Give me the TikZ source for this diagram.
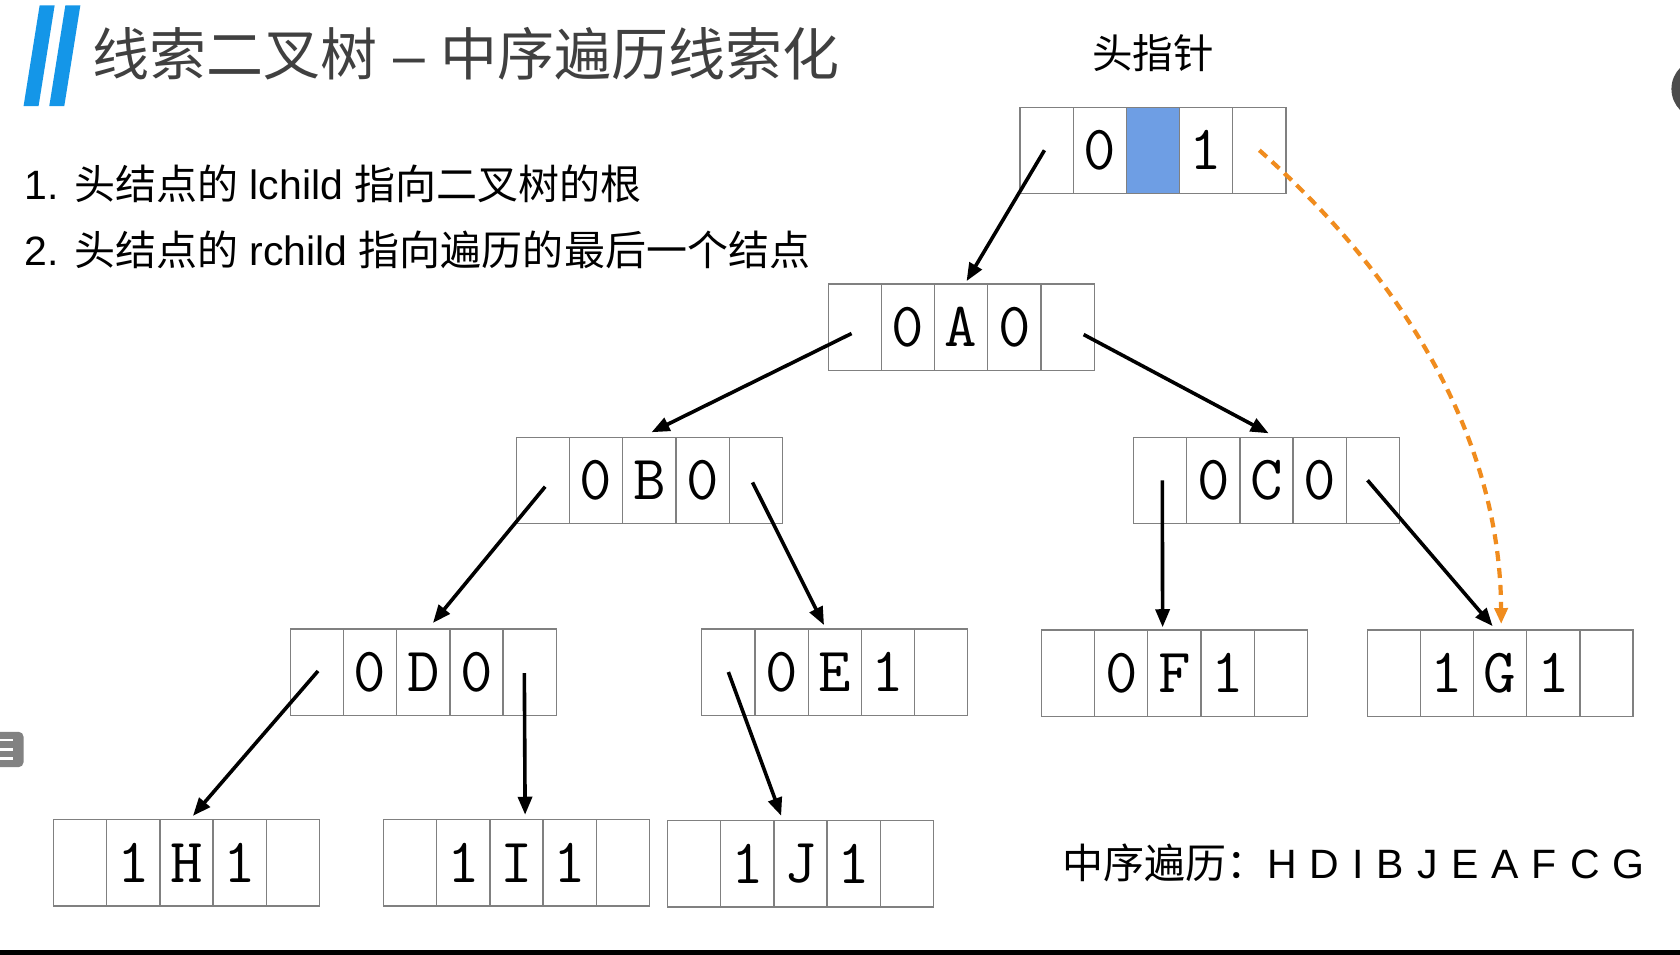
\documentclass[tikz,border=0pt]{standalone}
\usepackage{fontspec}
\setmainfont{Liberation Sans}
\newfontfamily\cjk{Noto Sans CJK SC}
\usetikzlibrary{arrows.meta,calc}
\definecolor{titleblue}{RGB}{20,150,232}
\definecolor{cellblue}{RGB}{110,158,228}
\definecolor{dashorange}{RGB}{240,140,30}
\definecolor{cellgray}{RGB}{128,128,128}
\definecolor{titlegray}{RGB}{64,64,64}
\definecolor{icongray}{RGB}{130,130,130}
\tikzset{
  cell/.style={draw=cellgray, line width=1.3pt, minimum width=53.2pt, minimum height=86.2pt,
    inner sep=0pt, font=\ttfamily\fontsize{63}{63}\selectfont},
  ptr/.style={line width=3.6pt, -{Triangle[length=18pt,width=14pt]}},
  thread/.style={dashorange, line width=4.2pt, dash pattern=on 10pt off 7pt,
    -{Triangle[length=16pt,width=13pt]}},
  txt/.style={inner sep=0pt, anchor=west},
}
% #1 middle fill, #2 name, #3 left, #4 top, #5 #6 #7 texts
\newcommand\recnode[7][white]{%
  \node[cell] (#2-1) at ({#3+24.82},{#4+40.25}) {};
  \node[cell] (#2-2) at ({#3+74.46},{#4+40.25}) {#5};
  \node[cell, fill=#1] (#2-3) at ({#3+124.1},{#4+40.25}) {#6};
  \node[cell] (#2-4) at ({#3+173.74},{#4+40.25}) {#7};
  \node[cell] (#2-5) at ({#3+223.38},{#4+40.25}) {};
}
\newcommand\gp{\hspace{0.32em}}
\begin{document}
\begin{tikzpicture}[x=1.0714pt,y=-1.0714pt]
\useasboundingbox (0,0) rectangle (1568,891);
\fill[white] (0,0) rectangle (1568,891);
% title bars
\fill[titleblue] (37,5) -- (51,5) -- (36,99) -- (22,99) -- cycle;
\fill[titleblue] (61,5) -- (75,5) -- (60,99) -- (46,99) -- cycle;
\node[txt, text=titlegray, font=\fontsize{57}{62}\selectfont] (title) at (86,50)
  {{\cjk 线索二叉树} – {\cjk 中序遍历线索化}};
\node[txt, font=\fontsize{41}{46}\selectfont] (line1) at (23,172)
  {1. {\cjk 头结点的} lchild {\cjk 指向二叉树的根}};
\node[txt, font=\fontsize{41}{46}\selectfont] (line2) at (23,233)
  {2. {\cjk 头结点的} rchild {\cjk 指向遍历的最后一个结点}};
\node[inner sep=0pt, font=\cjk\fontsize{40.5}{44}\selectfont] (headlabel) at (1076,50) {头指针};
\node[txt, font=\fontsize{41}{44}\selectfont] (inorder) at (991,805)
  {{\cjk 中序遍历：}H\gp D\gp I\gp B\gp J\gp E\gp A\gp F\gp C\gp G};
% records
\recnode[cellblue]{H0}{952}{100}{0}{}{1}
\recnode{A}{773}{265}{0}{A}{0}
\recnode{B}{482}{408}{0}{B}{0}
\recnode{C}{1058}{408}{0}{C}{0}
\recnode{D}{271}{587}{0}{D}{0}
\recnode{E}{655}{587}{0}{E}{1}
\recnode{F}{972}{588}{0}{F}{1}
\recnode{G}{1276}{588}{1}{G}{1}
\recnode{H}{50}{765}{1}{H}{1}
\recnode{I}{358}{765}{1}{I}{1}
\recnode{J}{623}{766}{1}{J}{1}
% pointers
\draw[ptr] ($(H0-1.center)+(-2,0)$) -- ($(A-3.north)+(5,-2)$);
\draw[ptr] ($(A-1.center)+(-3,6)$) -- ($(B-3.north)+(2,-4)$);
\draw[ptr] ($(A-5.center)+(15,7)$) -- ($(C-3.north)+(2,-3)$);
\draw[ptr] ($(B-1.center)+(2,6)$) -- ($(D-3.north)+(9,-5)$);
\draw[ptr] ($(B-5.center)+(-3,2)$) -- ($(E-3.north)+(-10,-3)$);
\draw[ptr] ($(C-1.center)+(2,0)$) -- ($(F-3.north)+(-11,-2)$);
\draw[ptr] ($(C-5.center)+(-5,0)$) -- ($(G-3.north)+(-7,-3)$);
\draw[ptr] ($(D-1.center)+(1,-1)$) -- ($(H-3.north)+(6,-3)$);
\draw[ptr] ($(D-5.center)+(-5,1)$) -- ($(I-3.north)+(8,-4)$);
\draw[ptr] ($(E-1.center)+(0,0)$) -- ($(J-3.north)+(-18,-4)$);
% thread
\draw[thread] (H0-5.center) .. controls ($(H0-5.center)+(124,110)$) and ($(G-3.north)+(0,-188)$) .. ($(G-3.north)+(1,-5)$);
% side decorations
\fill[icongray, rounded corners=5pt] (-12,683) rectangle (22,716);
\draw[white, line width=2.2pt] (0,691) -- (12,691) (0,699.5) -- (12,699.5) (0,708) -- (12,708);
\fill[black!70] (1588,83) circle (28);
\fill[black] (0,887) rectangle (1568,891);
\end{tikzpicture}
\end{document}
